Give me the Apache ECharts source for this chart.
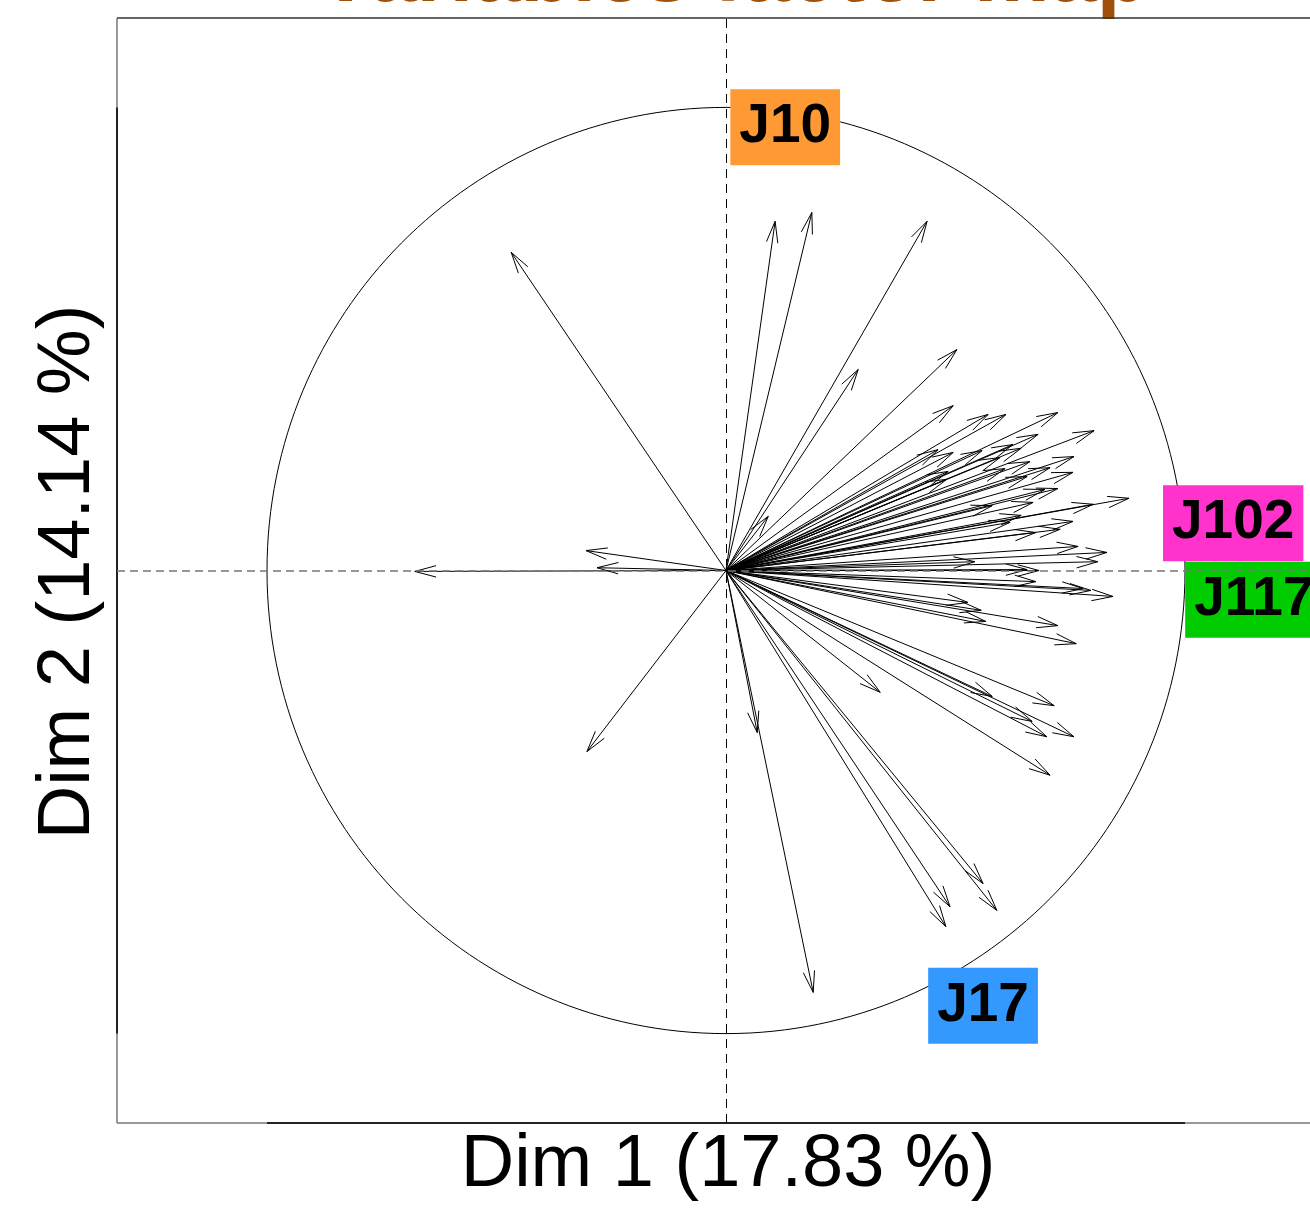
<!DOCTYPE html>
<html>
<head>
<meta charset="utf-8">
<script src="https://cdn.jsdelivr.net/npm/echarts@6/dist/echarts.min.js"></script>
<style>html,body{margin:0;padding:0;background:#fff;}#c{width:1310px;height:1208px;}</style>
</head>
<body>
<div id="c"></div>
<script>
// Variable coordinates (Dim 1, Dim 2)
const dim1 = [-0.468,-0.305,-0.281,-0.678,-0.303,0.107,0.187,0.438,0.288,0.503,
  0.092,0.495,0.571,0.610,0.723,0.802,0.680,0.495,0.558,0.625,
  0.643,0.758,0.662,0.706,0.608,0.756,0.656,0.723,0.669,0.580,
  0.878,0.800,0.756,0.643,0.619,0.675,0.767,0.830,0.810,0.542,
  0.481,0.462,0.484,0.682,0.675,0.795,0.843,0.527,0.556,0.566,
  0.723,0.763,0.715,0.580,0.667,0.699,0.758,0.706,0.336,0.068,
  0.560,0.488,0.479,0.590,0.190,0.656,0.778,0.597,0.695,0.728];
const dim2 = [0.687,0.043,0.006,-0.002,-0.391,0.754,0.773,0.754,0.434,0.477,
  0.117,0.356,0.337,0.337,0.341,0.302,0.294,0.255,0.259,0.272,
  0.264,0.246,0.235,0.222,0.220,0.212,0.203,0.177,0.147,0.140,
  0.156,0.143,0.106,0.119,0.104,0.082,0.052,0.039,0.019,0.019,
  0.197,0.261,0.214,0.000,-0.024,-0.043,-0.056,-0.069,-0.086,-0.110,
  -0.119,-0.158,-0.292,-0.272,-0.326,-0.359,-0.359,-0.442,-0.263,-0.350,
  -0.676,-0.726,-0.769,-0.734,-0.911,0.002,-0.039,0.244,0.175,0.089];

const labelNames = ['J10','J102','J117','J17'];
const labelX = [0.129, 1.105, 1.150, 0.560];
const labelY = [0.957, 0.102, -0.063, -0.940];
const labelColors = ['#FF9933','#FF33CC','#00CC00','#3399FF'];

const titleText = 'Variables factor map';
const xTitle = 'Dim 1 (17.83 %)';
const yTitle = 'Dim 2 (14.14 %)';

const XMIN = -1.3268, XMAX = 1.2723, YMIN = -1.193, YMAX = 1.193;
const FONT = '"Liberation Sans", Arial, sans-serif';

const arrowData = dim1.map((v, i) => [v, dim2[i]]);

function seg(data, color, width) {
  return {type: 'line', data: data, symbol: 'none', silent: true, clip: false,
    lineStyle: {color: color, width: width}};
}

const chart = echarts.init(document.getElementById('c'), null, {renderer: 'canvas'});
chart.setOption({
  animation: false,
  backgroundColor: '#fff',
  grid: {left: 117, top: 18, right: 0, height: 1105, show: false},
  xAxis: {type: 'value', min: XMIN, max: XMAX, axisLine: {show: false}, axisTick: {show: false}, axisLabel: {show: false}, splitLine: {show: false}},
  yAxis: {type: 'value', min: YMIN, max: YMAX, axisLine: {show: false}, axisTick: {show: false}, axisLabel: {show: false}, splitLine: {show: false}},
  graphic: [
    {type: 'text', x: 733, y: -22, silent: true, style: {text: titleText, font: 'bold 85px ' + FONT, fill: '#A0500A', align: 'center', verticalAlign: 'middle'}},
    {type: 'text', x: 728, y: 1166, silent: true, style: {text: xTitle, font: '74px ' + FONT, fill: '#000', align: 'center', verticalAlign: 'middle'}},
    {type: 'text', x: 69, y: 572, rotation: Math.PI / 2, silent: true, style: {text: yTitle, font: '74px ' + FONT, fill: '#000', align: 'center', verticalAlign: 'middle'}}
  ],
  series: [
    // plot box (top, left, bottom)
    seg([[XMIN, YMAX], [XMAX, YMAX]], '#333', 1.5),
    seg([[XMIN, YMIN], [XMIN, YMAX]], '#777', 1.5),
    seg([[XMIN, YMIN], [XMAX, YMIN]], '#777', 1.5),
    // axis lines from -1 to 1
    seg([[XMIN, -1], [XMIN, 1]], '#222', 2),
    seg([[-1, YMIN], [1, YMIN]], '#222', 2),
    {
      type: 'line', data: [], silent: true,
      markLine: {
        silent: true, symbol: 'none', label: {show: false},
        data: [
          {yAxis: 0, lineStyle: {color: '#777', width: 1.5, type: [8, 5]}},
          {xAxis: 0, lineStyle: {color: '#000', width: 1, type: [9, 6]}}
        ]
      }
    },
    {
      type: 'custom', silent: true, data: [[0, 0]],
      renderItem: function (params, api) {
        const c = api.coord([0, 0]);
        const s = api.size([1, 1]);
        return {type: 'ellipse', shape: {cx: c[0], cy: c[1], rx: s[0], ry: s[1]}, style: {stroke: '#000', fill: null, lineWidth: 1}};
      }
    },
    {
      type: 'custom', silent: true, data: arrowData, clip: false,
      renderItem: function (params, api) {
        const o = api.coord([0, 0]);
        const t = api.coord([api.value(0), api.value(1)]);
        const ang = Math.atan2(t[1] - o[1], t[0] - o[0]);
        const L = 22, a = 15 * Math.PI / 180;
        const b1 = [t[0] - L * Math.cos(ang - a), t[1] - L * Math.sin(ang - a)];
        const b2 = [t[0] - L * Math.cos(ang + a), t[1] - L * Math.sin(ang + a)];
        return {type: 'group', children: [
          {type: 'line', shape: {x1: o[0], y1: o[1], x2: t[0], y2: t[1]}, style: {stroke: '#000', lineWidth: 1}},
          {type: 'polyline', shape: {points: [b1, t, b2]}, style: {stroke: '#000', fill: null, lineWidth: 1}}
        ]};
      }
    },
    {
      type: 'scatter', symbolSize: 0, silent: true, clip: false,
      itemStyle: {opacity: 1},
      data: labelNames.map((n, i) => ({
        name: n, value: [labelX[i], labelY[i]],
        label: {backgroundColor: labelColors[i]}
      })),
      label: {show: true, position: 'inside', formatter: '{b}', fontSize: 55, fontWeight: 'bold', fontFamily: FONT, color: '#000', padding: [12, 9, 9, 9]}
    }
  ]
});
</script>
</body>
</html>
